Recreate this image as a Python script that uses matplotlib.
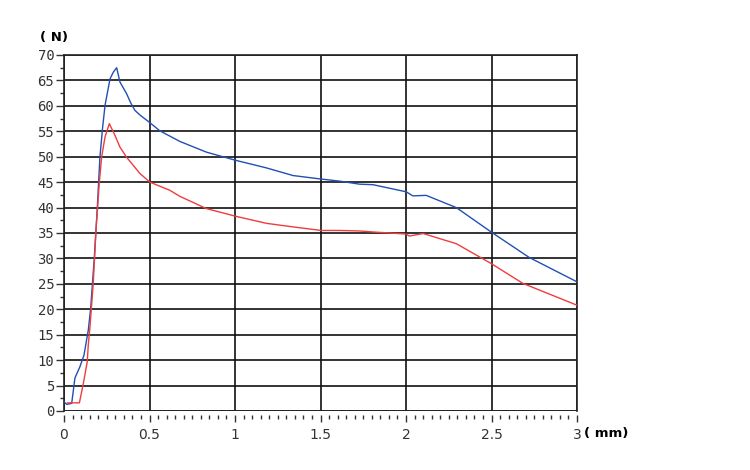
import matplotlib
matplotlib.use("Agg")
import matplotlib.pyplot as plt
from matplotlib.ticker import MultipleLocator

# Blue curve (displacement mm, force N)
blue_x = [0.0, 0.016, 0.045, 0.064, 0.093, 0.117, 0.142, 0.156, 0.177, 0.195, 0.21, 0.226,
          0.24, 0.269, 0.288, 0.308, 0.327, 0.366, 0.39, 0.415, 0.444, 0.502, 0.56, 0.678, 0.833,
          1.003, 1.184, 1.339, 1.505, 1.612, 1.729, 1.807, 2.001, 2.04, 2.118, 2.294, 2.498,
          2.72, 3.0]
blue_y = [1.8, 1.3, 1.5, 6.5, 8.7, 11.0, 15.9, 20.2, 30.0, 40.1, 49.9, 55.8,
          60.1, 65.3, 66.6, 67.5, 64.7, 62.4, 60.6, 59.1, 58.2, 56.7, 55.1, 53.0, 50.9,
          49.3, 47.8, 46.3, 45.6, 45.2, 44.6, 44.5, 43.1, 42.3, 42.4, 40.0, 35.2,
          30.2, 25.4]

# Red curve
red_x = [0.02, 0.05, 0.09, 0.113, 0.136, 0.142, 0.152, 0.171, 0.187, 0.206, 0.22, 0.24,
         0.265, 0.298, 0.327, 0.366, 0.444, 0.502, 0.619, 0.678, 0.833, 1.003, 1.184,
         1.339, 1.505, 1.612, 1.729, 1.807, 2.001, 2.02, 2.1, 2.294, 2.498, 2.683, 3.0]
red_y = [1.6, 1.6, 1.6, 5.4, 9.7, 13.0, 16.6, 25.1, 35.5, 44.7, 49.9, 53.9,
         56.5, 54.2, 51.9, 49.9, 46.7, 45.0, 43.4, 42.2, 39.8, 38.3, 36.9,
         36.2, 35.5, 35.5, 35.4, 35.2, 34.8, 34.4, 34.9, 32.9, 29.0, 25.1, 20.8]

x_ticks = [0, 0.5, 1, 1.5, 2, 2.5, 3]
x_labels = ["0", "0.5", "1", "1.5", "2", "2.5", "3"]
y_ticks = list(range(0, 75, 5))
y_labels = [str(v) for v in y_ticks]

fig = plt.figure(figsize=(7.5, 4.7), dpi=100)
ax = fig.add_axes([64/750, 59/470, 513/750, 356/470])
ax.set_xlim(0, 3)
ax.set_ylim(0, 70)

ax.plot(blue_x, blue_y, color="#2150b4", lw=1.0, zorder=3)
ax.plot(red_x, red_y, color="#f03c3c", lw=1.0, zorder=3)

ax.set_xticks(x_ticks)
ax.set_xticklabels(x_labels, family="DejaVu Sans Mono", fontsize=10)
ax.set_yticks(y_ticks)
ax.set_yticklabels(y_labels, family="DejaVu Sans Mono", fontsize=10)
ax.xaxis.set_minor_locator(MultipleLocator(0.05))
ax.yaxis.set_minor_locator(MultipleLocator(2.5))

ax.grid(True, which="major", color="#111111", lw=1.2)
ax.set_axisbelow(True)
for s in ax.spines.values():
    s.set_color("#222222")
    s.set_linewidth(1.2)
ax.spines["bottom"].set_position(("outward", 3))
ax.spines["bottom"].set_visible(False)
ax.axhline(0, color="#222222", lw=1.2, zorder=2)

ax.tick_params(axis="x", which="major", length=5, width=1, direction="out", pad=4, colors="#333333")
ax.tick_params(axis="x", which="minor", length=3, width=1, direction="out", colors="#333333")
ax.tick_params(axis="y", which="major", length=6, width=1, direction="out", pad=1, colors="#333333")
ax.tick_params(axis="y", which="minor", length=3, width=1, direction="out", colors="#333333")
for lab in ax.get_xticklabels() + ax.get_yticklabels():
    lab.set_color("#333333")

fig.text(40/750, 1 - 38/470, "( N)", family="DejaVu Sans",
         fontsize=9.5, fontweight="bold", va="center", ha="left")
fig.text(584/750, 1 - 433/470, "( mm)", family="DejaVu Sans",
         fontsize=9.5, fontweight="bold", va="center", ha="left")

fig.savefig("out.png", dpi=100)
